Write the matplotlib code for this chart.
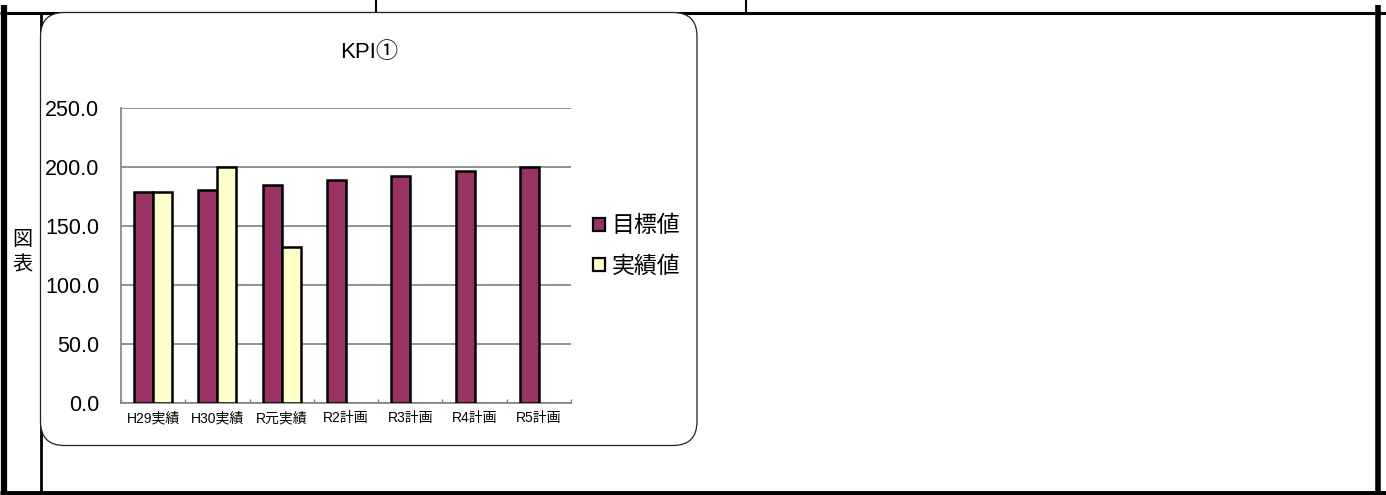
import numpy as np
import matplotlib.pyplot as plt
from matplotlib.patches import FancyBboxPatch, Patch
from matplotlib.ticker import FormatStrFormatter, MultipleLocator

plt.rcParams['font.family'] = ['Liberation Sans', 'Noto Sans CJK JP', 'DejaVu Sans']

# data
categories = ["H29実績", "H30実績", "R元実績", "R2計画", "R3計画", "R4計画", "R5計画"]
target = [178.6, 180.5, 184.6, 188.7, 192.6, 196.5, 200.0]
actual = [178.6, 200.0, 132.5, np.nan, np.nan, np.nan, np.nan]
series_names = ["目標値", "実績値"]
title = "KPI①"
side_label = "図\n表"

W, H = 1386, 495
fig = plt.figure(figsize=(W / 100, H / 100), dpi=100)

# background layer in pixel coordinates: table borders + chart frame
bg = fig.add_axes([0, 0, 1, 1])
bg.set_xlim(0, W)
bg.set_ylim(H, 0)
bg.axis("off")

bg.plot([4, 4], [5, H], color="black", lw=4.5, solid_capstyle="butt")
bg.plot([1378, 1378], [5, H], color="black", lw=4, solid_capstyle="butt")
bg.plot([0, W], [12.5, 12.5], color="black", lw=2.2, solid_capstyle="butt")
bg.plot([0, W], [492.5, 492.5], color="black", lw=3.5, solid_capstyle="butt")
bg.plot([40.5, 40.5], [12, H], color="black", lw=2, solid_capstyle="butt")
bg.plot([376, 376], [0, 12], color="black", lw=1.5)
bg.plot([746, 746], [0, 12], color="black", lw=1.5)

frame = FancyBboxPatch((40.5, 12.5), 656.5, 433, boxstyle="round,pad=0,rounding_size=24",
                       facecolor="white", edgecolor="#202020", lw=0.9, zorder=3)
bg.add_patch(frame)

fig.text(369 / W, 1 - 53 / H, title, ha="center", va="center", fontsize=16)
fig.text(22 / W, 1 - 252 / H, side_label, ha="center", va="center", fontsize=14.5,
         linespacing=1.45)

# chart
ax = fig.add_axes([121 / W, 1 - 403 / H, 450 / W, 295 / H])
ax.set_zorder(5)
ax.patch.set_alpha(0)

x = np.arange(len(categories))
bw = 0.295
ax.bar(x - bw / 2, target, bw, color="#993366", edgecolor="black", lw=1.8,
       label=series_names[0], zorder=3)
ax.bar(x + bw / 2, actual, bw, color="#FFFFCC", edgecolor="black", lw=1.8,
       label=series_names[1], zorder=3)

ax.set_xlim(-0.5, len(categories) - 0.5)
ax.set_ylim(0, 250)
ax.yaxis.set_major_locator(MultipleLocator(50))
ax.yaxis.set_major_formatter(FormatStrFormatter("%.1f"))
ax.grid(axis="y", color="#808080", lw=1.2, zorder=0)
ax.set_axisbelow(True)

for s in ["top", "right"]:
    ax.spines[s].set_visible(False)
for s in ["left", "bottom"]:
    ax.spines[s].set_color("#808080")
    ax.spines[s].set_linewidth(1.2)

ax.tick_params(axis="y", length=0, labelsize=15.5, pad=15.5)
ax.set_xticks(x)
ax.set_xticklabels(categories)
ax.tick_params(axis="x", which="major", length=0, labelsize=10, pad=6)
ax.set_xticks(np.arange(len(categories) + 1) - 0.5, minor=True)
ax.tick_params(axis="x", which="minor", direction="in", length=3, color="#808080", width=1)

handles = [Patch(facecolor="#993366", edgecolor="black", lw=1.6),
           Patch(facecolor="#FFFFCC", edgecolor="black", lw=1.6)]
fig.legend(handles, series_names, loc="center left",
           bbox_to_anchor=(582 / W, 1 - 246 / H), frameon=False, fontsize=16.5,
           handlelength=0.5, handleheight=0.5, handletextpad=0.3, labelspacing=0.75,
           borderpad=0)

fig.savefig("out.png", dpi=100)
